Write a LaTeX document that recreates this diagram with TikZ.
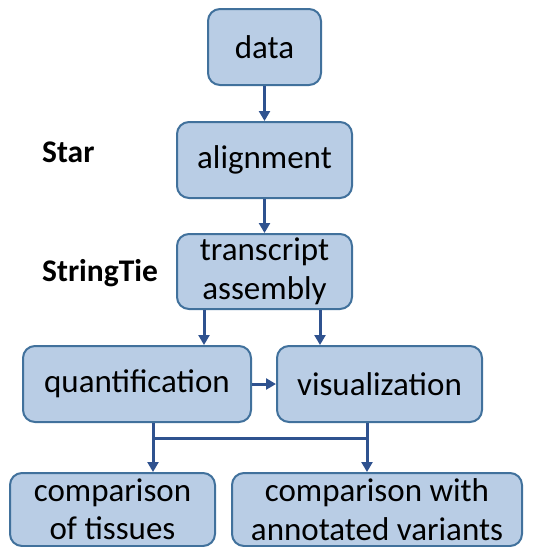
\documentclass[tikz,border=0pt]{standalone}
\usepackage{fontspec}
\setmainfont{Carlito}
\usetikzlibrary{arrows.meta}
\definecolor{boxfill}{RGB}{185,205,229}
\definecolor{boxdraw}{RGB}{65,113,156}
\definecolor{arr}{RGB}{47,82,143}
\begin{document}
\begin{tikzpicture}[x=1pt,y=-1pt,
  box/.style={draw=boxdraw, fill=boxfill, line width=2pt, rounded corners=12pt,
    inner sep=0pt, align=center, font=\fontsize{33}{38.5}\selectfont},
  conn/.style={draw=arr, line width=3pt, -{Triangle[length=10pt,width=11pt]}},
  plainline/.style={draw=arr, line width=3pt},
  lbl/.style={font=\fontsize{31.5}{36}\selectfont\bfseries, inner sep=0pt}]
\useasboundingbox (0,0) rectangle (533,547);
\node[box, minimum width=113pt, minimum height=76pt] (data) at (264.5,47) {data};
\node[box, minimum width=175pt, minimum height=76pt] (align) at (264.5,160) {alignment};
\node[box, minimum width=175pt, minimum height=75pt] (asm) at (264.5,271.5) {transcript\\assembly};
\node[box, minimum width=228pt, minimum height=76pt] (quant) at (137,384) {quantification};
\node[box, minimum width=205pt, minimum height=76pt] (vis) at (379.5,384) {visualization};
\node[box, minimum width=205pt, minimum height=73pt] (cmpa) at (112.5,509.5) {comparison\\of tissues};
\node[box, minimum width=290pt, minimum height=73pt] (cmpb) at (377,509.5) {comparison with\\annotated variants};
\node[lbl, anchor=base west] (star) at (42,162) {Star};
\node[lbl, anchor=base west] (stie) at (42,281) {StringTie};
\coordinate (ca) at (204,0);
\coordinate (cb) at (320,0);
\coordinate (ja) at (153,438);
\coordinate (jb) at (367,438);
\draw[conn] (data) -- (align);
\draw[conn] (align) -- (asm);
\draw[conn] (asm.south -| ca) -- (quant.north -| ca);
\draw[conn] (asm.south -| cb) -- (vis.north -| cb);
\draw[conn] (quant) -- (vis);
\draw[plainline] (quant.south -| ja) -- (ja) -- (jb) -- (vis.south -| jb);
\draw[conn] (ja) -- (cmpa.north -| ja);
\draw[conn] (jb) -- (cmpb.north -| jb);
\end{tikzpicture}
\end{document}
